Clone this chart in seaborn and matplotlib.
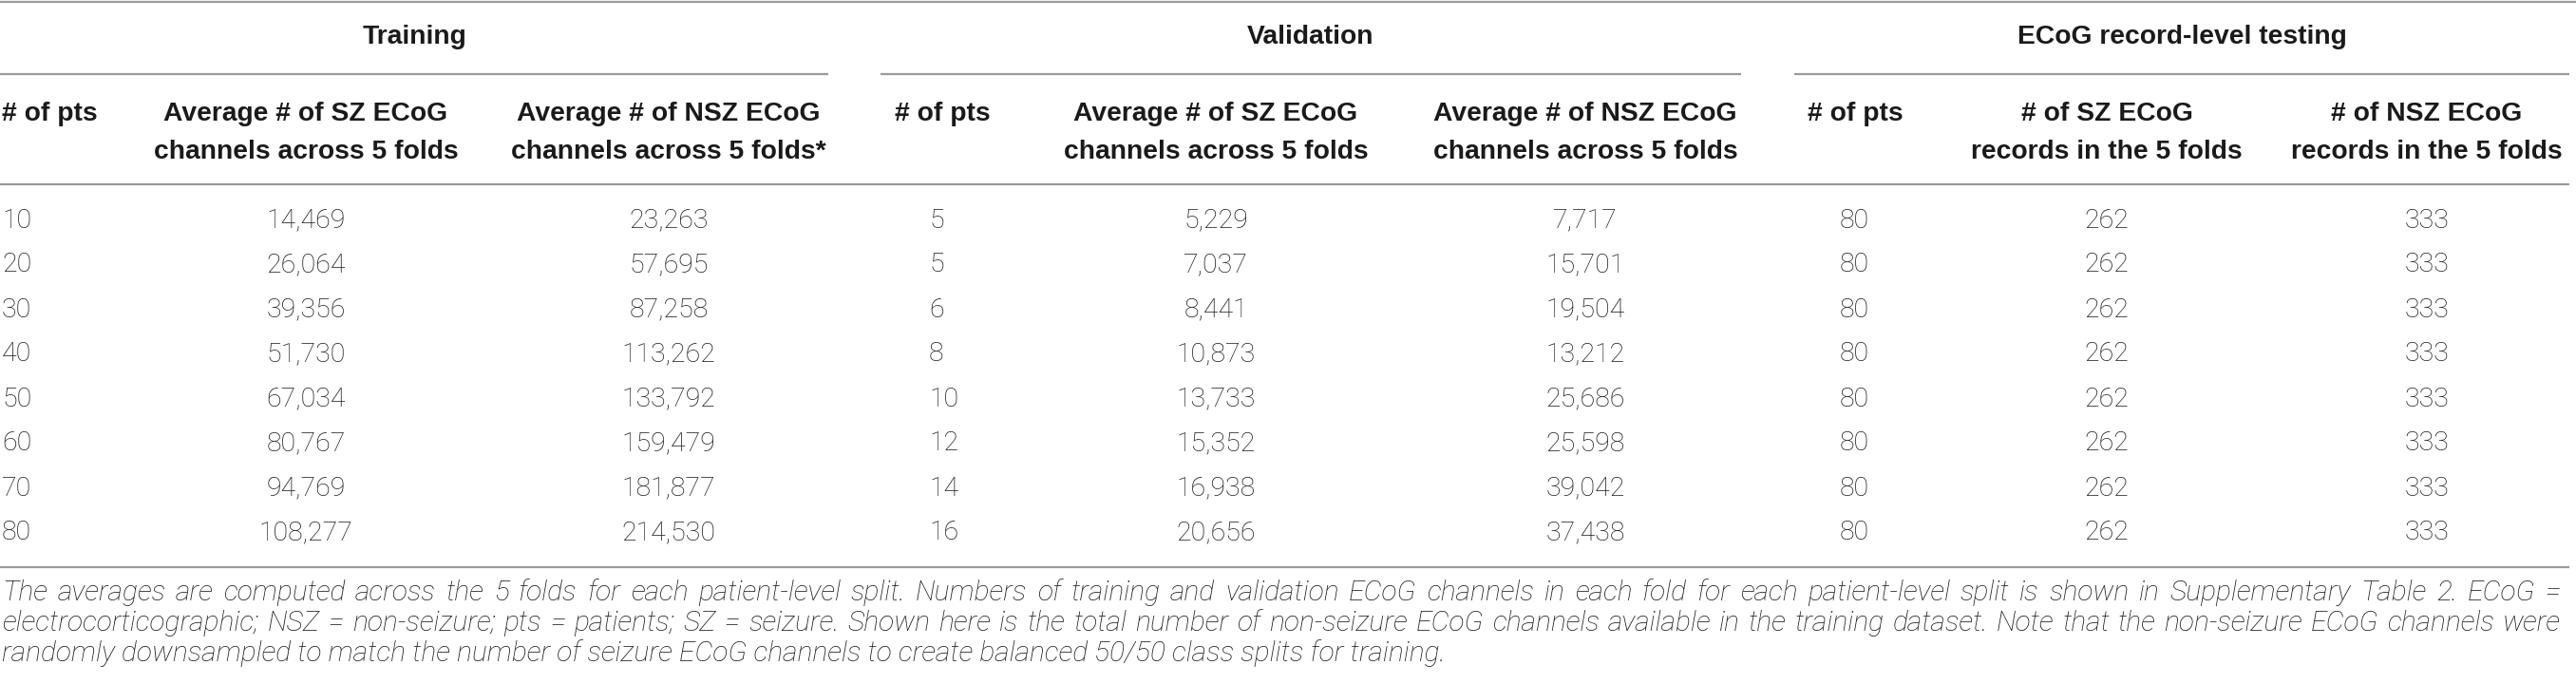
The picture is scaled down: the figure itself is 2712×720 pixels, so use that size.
import matplotlib
matplotlib.use("Agg")
import matplotlib.pyplot as plt
import seaborn as sns

train_pts = [10, 20, 30, 40, 50, 60, 70, 80]
train_sz = [14469, 26064, 39356, 51730, 67034, 80767, 94769, 108277]
train_nsz = [23263, 57695, 87258, 113262, 133792, 159479, 181877, 214530]
val_pts = [5, 5, 6, 8, 10, 12, 14, 16]
val_sz = [5229, 7037, 8441, 10873, 13733, 15352, 16938, 20656]
val_nsz = [7717, 15701, 19504, 13212, 25686, 25598, 39042, 37438]
test_pts = [80, 80, 80, 80, 80, 80, 80, 80]
test_sz = [262, 262, 262, 262, 262, 262, 262, 262]
test_nsz = [333, 333, 333, 333, 333, 333, 333, 333]

groups = ["Training", "Validation", "ECoG record-level testing"]
col_headers = [
    "# of pts",
    "Average # of SZ ECoG\nchannels across 5 folds",
    "Average # of NSZ ECoG\nchannels across 5 folds*",
    "# of pts",
    "Average # of SZ ECoG\nchannels across 5 folds",
    "Average # of NSZ ECoG\nchannels across 5 folds",
    "# of pts",
    "# of SZ ECoG\nrecords in the 5 folds",
    "# of NSZ ECoG\nrecords in the 5 folds",
]
caption = [
    "The averages are computed across the 5 folds for each patient-level split. Numbers of training and validation "
    "ECoG channels in each fold for each patient-level split is shown in Supplementary Table 2. ECoG =",
    "electrocorticographic; NSZ = non-seizure; pts = patients; SZ = seizure. Shown here is the total number of "
    "non-seizure ECoG channels available in the training dataset. Note that the non-seizure ECoG channels were",
    "randomly downsampled to match the number of seizure ECoG channels to create balanced 50/50 class splits for training.",
]

columns = [train_pts, train_sz, train_nsz, val_pts, val_sz, val_nsz, test_pts, test_sz, test_nsz]

sns.set_theme(style="white")
plt.rcParams["font.family"] = ["Liberation Sans", "DejaVu Sans"]

W, H = 2712, 720
fig = plt.figure(figsize=(W / 100, H / 100), dpi=100)
ax = fig.add_axes([0, 0, 1, 1])
ax.set_xlim(0, W)
ax.set_ylim(H, 0)
ax.axis("off")

line_kw = dict(color="#9a9a9a", lw=1.6, solid_capstyle="butt")
head_kw = dict(family="Liberation Sans", weight="bold", fontsize=20.3, color="#1a1a1a")
val_kw = dict(family="Roboto", weight="light", fontsize=20.5, color="#1a1a1a")
cap_kw = dict(family="Roboto", weight="light", style="italic", fontsize=21.6, color="#1a1a1a")

# layout (pixel units)
col_x = [2, 322, 704, 942, 1280, 1669, 1903, 2218, 2555]
col_val_x = [2, 322, 704, 978, 1280, 1669, 1937, 2218, 2555]
col_align = ["left", "center", "center", "left", "center", "center", "left", "center", "center"]
group_span = [(0, 872), (927, 1833), (1889, 2705)]
y_group, y_group_line = 39, 78
y_head1, y_head2, y_head_line = 120, 160, 194
y_row0, row_h = 232, 47
y_bottom = 597
y_cap0, cap_h = 624, 32

ax.plot([0, W], [2, 2], **line_kw)
for (x0, x1), g in zip(group_span, groups):
    ax.text((x0 + x1) / 2, y_group, g, ha="center", va="center", **head_kw)
    ax.plot([x0, x1], [y_group_line, y_group_line], **line_kw)

for x, al, h in zip(col_x, col_align, col_headers):
    parts = h.split("\n")
    for yy, p in zip([y_head1, y_head2], parts):
        ax.text(x, yy, p, ha=al, va="center", **head_kw)
ax.plot([0, 2705], [y_head_line, y_head_line], **line_kw)

for x, al, vals in zip(col_val_x, col_align, columns):
    for i, v in enumerate(vals):
        ax.text(x, y_row0 + i * row_h, f"{v:,}", ha=al, va="center", **val_kw)
ax.plot([0, 2705], [y_bottom, y_bottom], **line_kw)

# justified caption (last line left-aligned)
fig.canvas.draw()
renderer = fig.canvas.get_renderer()
right_edge = 2696
for i, line in enumerate(caption):
    y = y_cap0 + i * cap_h
    if i == len(caption) - 1:
        ax.text(2, y, line, ha="left", va="center", **cap_kw)
        continue
    words = line.split(" ")
    widths = []
    for w in words:
        t = ax.text(0, 0, w, **cap_kw)
        widths.append(t.get_window_extent(renderer).width)
        t.remove()
    gap = max((right_edge - 2 - sum(widths)) / (len(words) - 1), 3)
    x = 2
    for w, wd in zip(words, widths):
        ax.text(x, y, w, ha="left", va="center", **cap_kw)
        x += wd + gap

fig.savefig("out.png", dpi=100)
